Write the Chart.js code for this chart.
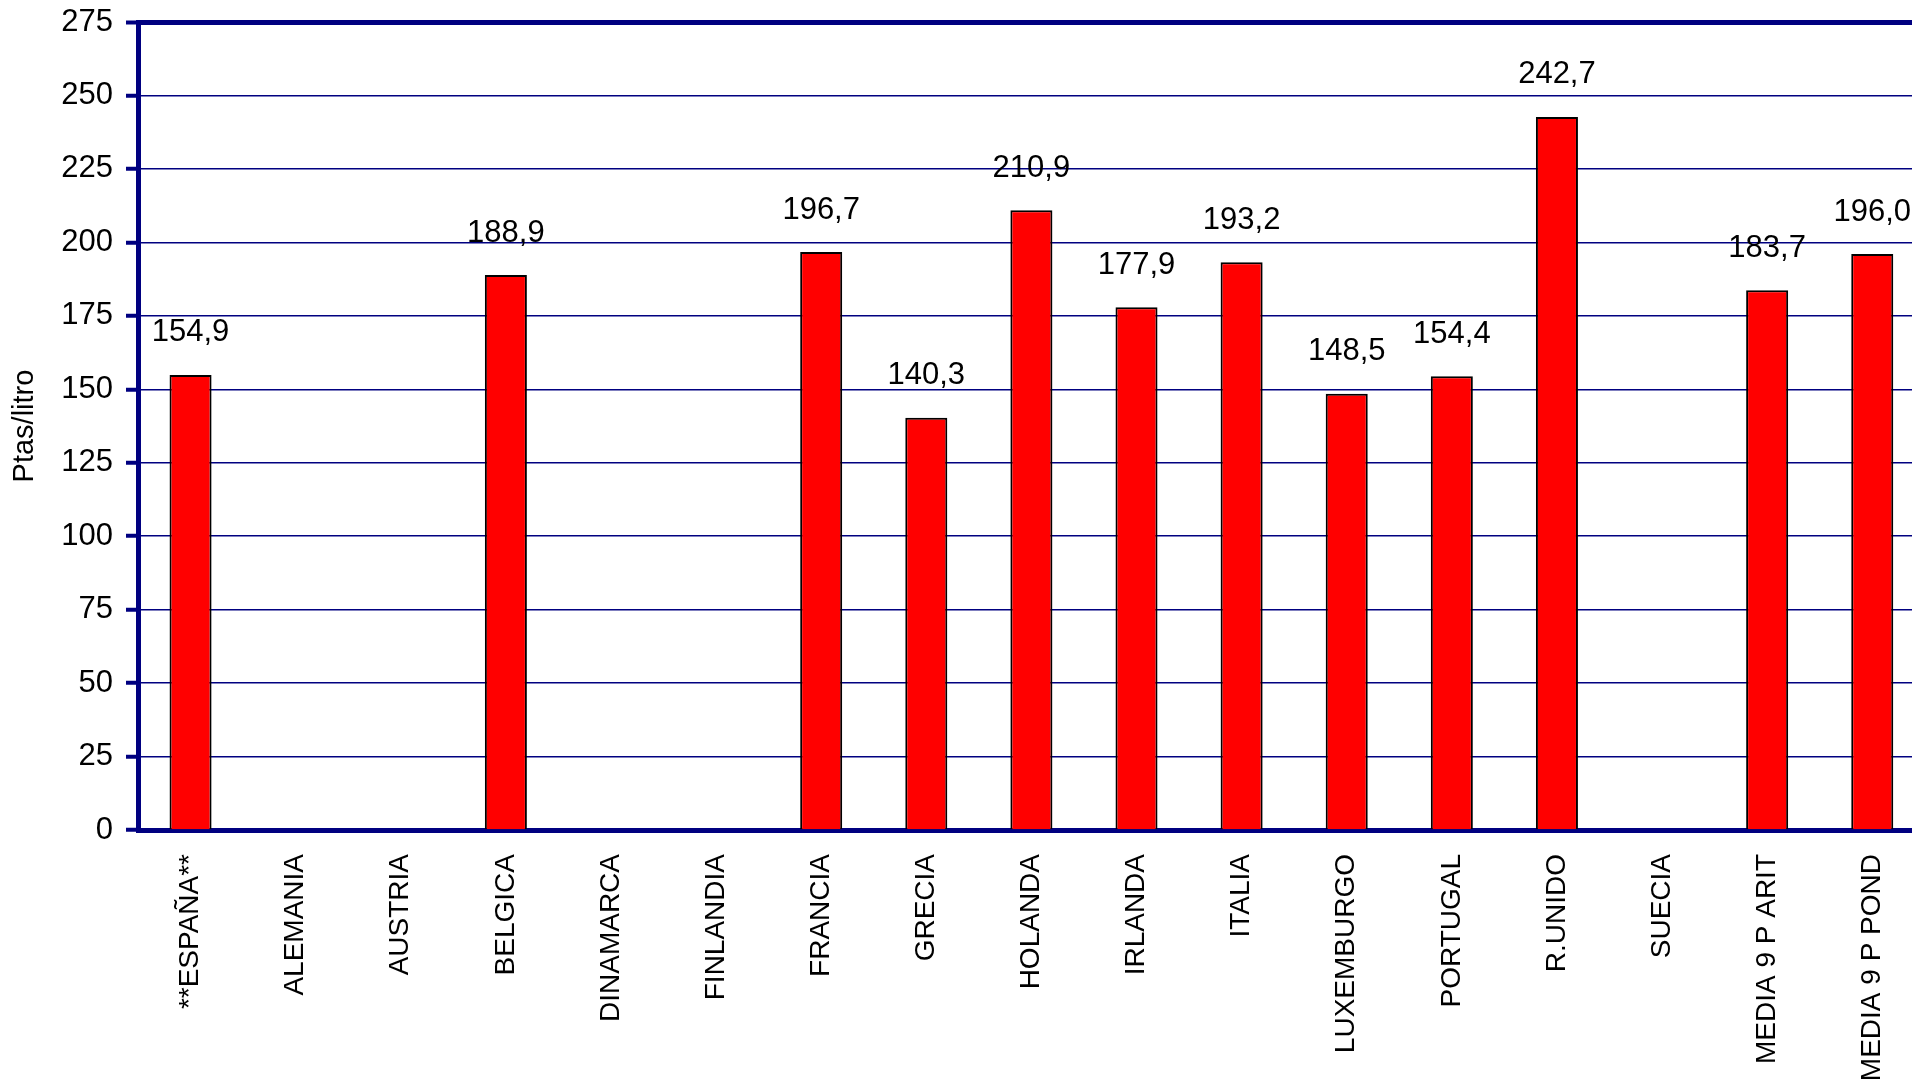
<!DOCTYPE html>
<html lang="es">
<head>
    <meta charset="UTF-8">
    <title>Ptas/litro</title>
    <script src="https://cdn.jsdelivr.net/npm/chart.js"></script>
    <style>
        html, body { margin: 0; padding: 0; background: #fff; overflow: hidden; }
        #wrap { width: 1930px; height: 1090px; }
    </style>
</head>
<body>
<div id="wrap"><canvas id="precioChart" width="1930" height="1090"></canvas></div>
<script>
    // datos
    const paises = ["**ESPAÑA**", "ALEMANIA", "AUSTRIA", "BELGICA", "DINAMARCA", "FINLANDIA",
        "FRANCIA", "GRECIA", "HOLANDA", "IRLANDA", "ITALIA", "LUXEMBURGO", "PORTUGAL",
        "R.UNIDO", "SUECIA", "MEDIA 9 P ARIT", "MEDIA 9 P POND"];
    const precios = [154.9, null, null, 188.9, null, null, 196.7, 140.3, 210.9, 177.9,
        193.2, 148.5, 154.4, 242.7, null, 183.7, 196.0];
    const ejeMin = 0;
    const ejeMax = 275;
    const ejePaso = 25;

    const azul = "#000080";
    const fuente = "'Liberation Sans', Arial, sans-serif";

    // etiquetas de valor encima de cada barra, con coma decimal
    const etiquetasValor = {
        id: "etiquetasValor",
        afterDatasetsDraw(chart) {
            const ctx = chart.ctx;
            const meta = chart.getDatasetMeta(0);
            ctx.save();
            ctx.font = "31px " + fuente;
            ctx.fillStyle = "#000";
            ctx.textAlign = "center";
            ctx.textBaseline = "middle";
            meta.data.forEach((bar, i) => {
                const v = precios[i];
                if (v === null) return;
                ctx.fillText(v.toFixed(1).replace(".", ","), bar.x, bar.y - 42);
            });
            ctx.restore();
        }
    };

    new Chart(document.getElementById("precioChart"), {
        type: "bar",
        data: {
            labels: paises,
            datasets: [{
                data: precios,
                backgroundColor: "#ff0000",
                borderColor: "#000",
                borderWidth: 2,
                barPercentage: 0.4,
                categoryPercentage: 1
            }]
        },
        options: {
            responsive: false,
            animation: false,
            layout: { padding: { top: 22, right: 5, left: 6, bottom: 0 } },
            plugins: {
                legend: { display: false },
                tooltip: { enabled: false }
            },
            scales: {
                x: {
                    grid: { display: false, drawTicks: false },
                    border: { color: azul, width: 5 },
                    ticks: {
                        color: "#000",
                        font: { family: fuente, size: 28 },
                        maxRotation: 90,
                        minRotation: 90,
                        autoSkip: false,
                        padding: 24
                    },
                    afterFit(scale) { scale.height = 260; }
                },
                y: {
                    min: ejeMin,
                    max: ejeMax,
                    ticks: {
                        stepSize: ejePaso,
                        color: "#000",
                        font: { family: fuente, size: 31 },
                        padding: 13
                    },
                    grid: {
                        color: azul,
                        lineWidth: c => (c.tick && c.tick.value === ejeMax ? 5 : 1.5),
                        tickColor: azul,
                        tickWidth: 4,
                        tickLength: 12
                    },
                    border: { color: azul, width: 5 },
                    title: {
                        display: true,
                        text: "Ptas/litro",
                        color: "#000",
                        font: { family: fuente, size: 29 },
                        padding: 2
                    },
                    afterFit(scale) {
                        scale.width = 132;
                        scale.paddingTop = 0;
                        scale.paddingBottom = 0;
                    }
                }
            }
        },
        plugins: [etiquetasValor]
    });
</script>
</body>
</html>
